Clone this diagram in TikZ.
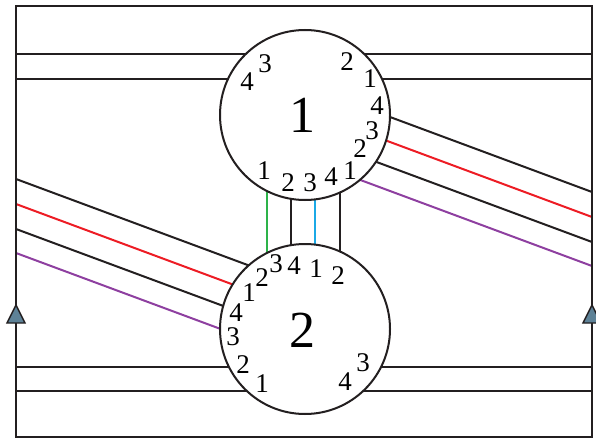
\documentclass[tikz,border=0pt]{standalone}
\usepackage{fontspec}
\setmainfont{Liberation Serif}
\usepackage{xcolor}
\usetikzlibrary{calc,backgrounds}

\definecolor{ink}{HTML}{231F20}
\definecolor{wirered}{HTML}{ED1C24}
\definecolor{wirepurple}{HTML}{8E3FA0}
\definecolor{wiregreen}{HTML}{2DB34A}
\definecolor{wireblue}{HTML}{1BA9E6}
\definecolor{flagblue}{HTML}{5E8297}

\begin{document}
\begin{tikzpicture}[
    x=1pt, y=-1pt,
    frame/.style={draw=ink, line width=2.3pt},
    wire/.style={draw=ink, line width=2pt},
    hub/.style={circle, draw=ink, fill=white, line width=2pt, minimum size=170pt, inner sep=0pt},
    hubname/.style={inner sep=0pt, font=\fontsize{52}{52}\selectfont},
    port/.style={inner sep=0pt, font=\fontsize{27}{27}\selectfont},
    flag/.style={draw=ink, fill=flagblue, line width=1.4pt, line join=miter}
]
\useasboundingbox (0,0) rectangle (596,441);

% outer frame
\draw[frame] (16,6) rectangle (592,437);

% the two hubs
\node[hub] (c1) at (305,115) {};
\node[hub] (c2) at (305,329) {};
\node[hubname] (n1) at (302,115) {1};
\node[hubname] (n2) at (302,330) {2};

\begin{pgfonlayer}{background}
% straight wires to the frame
\foreach \y [count=\i] in {54,79} {
  \coordinate (tl\i) at (16,\y);
  \coordinate (tr\i) at (592,\y);
  \draw[wire] (tl\i) -- (tl\i -| c1.center);
  \draw[wire] (tr\i) -- (tr\i -| c1.center);
}
\foreach \y [count=\i] in {367,391} {
  \coordinate (bl\i) at (16,\y);
  \coordinate (br\i) at (592,\y);
  \draw[wire] (bl\i) -- (bl\i -| c2.center);
  \draw[wire] (br\i) -- (br\i -| c2.center);
}
% slanted wires
\foreach \y/\c [count=\i] in {192/ink,217/wirered,242/ink,266/wirepurple} {
  \coordinate (sr\i) at (592,\y);
  \draw[wire,draw=\c] (sr\i) -- ++(-272,-101);
}
\foreach \y/\c [count=\i] in {179/ink,204/wirered,229/ink,253/wirepurple} {
  \coordinate (sl\i) at (16,\y);
  \draw[wire,draw=\c] (sl\i) -- ++(272,101);
}
% wires between the hubs
\foreach \dx/\c in {-38/wiregreen,-14/ink,10/wireblue,35/ink} {
  \draw[wire,draw=\c] ($(c1.center)+(\dx,35)$) -- ($(c2.center)+(\dx,-29)$);
}
\end{pgfonlayer}

% port numbers, hub 1
\foreach \lab/\px/\py [count=\i] in {4/247/82, 3/265/64, 2/347/62, 1/370/79,
    4/377/106, 3/372/131, 2/360/149, 1/350/171,
    1/264/171, 2/288/183, 3/310/183, 4/331/177} {
  \node[port] (a\i) at (\px,\py) {\lab};
}
% port numbers, hub 2
\foreach \lab/\px/\py [count=\i] in {2/262/278, 3/276/264, 4/294/266, 1/316/269,
    2/338/276, 1/249/293, 4/236/313, 3/233/337,
    2/243/365, 1/262/384, 4/345/382, 3/363/363} {
  \node[port] (b\i) at (\px,\py) {\lab};
}

% flags on the side edges
\draw[flag] (16,305) -- (25,323) -- (7,323) -- cycle;
\draw[flag] (592,305) -- (601,323) -- (583,323) -- cycle;
\end{tikzpicture}
\end{document}
